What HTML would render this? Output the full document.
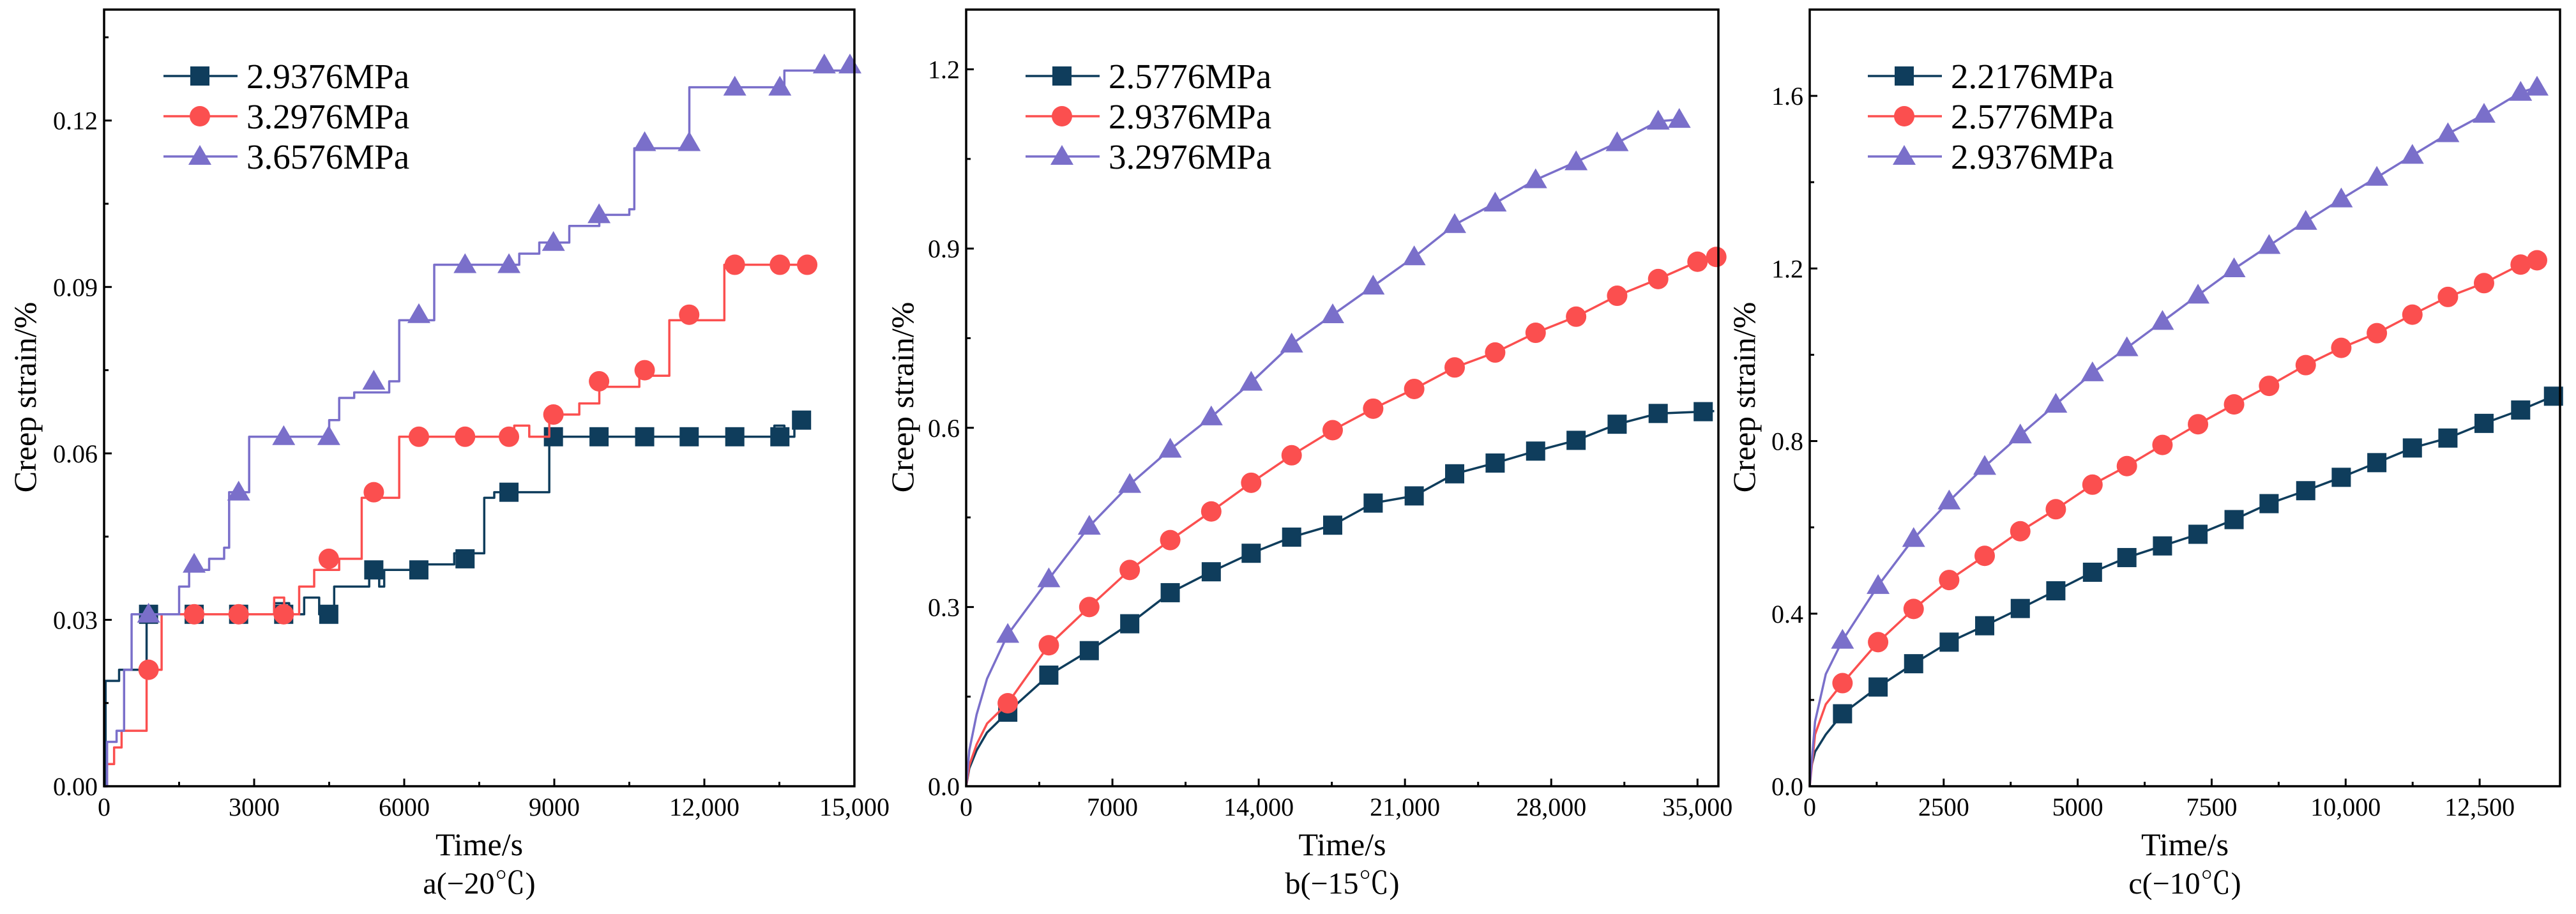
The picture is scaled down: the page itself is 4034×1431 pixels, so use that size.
<!DOCTYPE html>
<html><head><meta charset="utf-8"><style>
html,body{margin:0;padding:0;background:#fff;}
svg{display:block;font-family:"Liberation Serif","Noto Serif CJK SC",serif;}
</style></head><body>
<svg id="fig" width="4034" height="1431" viewBox="0 0 4034 1431" xmlns="http://www.w3.org/2000/svg"></svg>
<script>
// ---------- Panel a (-20°C) ----------
const aXTicks=[0,3000,6000,9000,12000,15000];
const aXTickLabels=["0","3000","6000","9000","12,000","15,000"];
const aYTicks=[0,0.03,0.06,0.09,0.12];
const aYTickLabels=["0.00","0.03","0.06","0.09","0.12"];
const aLegend=["2.9376MPa","3.2976MPa","3.6576MPa"];
const a1T=[0,30,300,850,3400,3700,4000,4300,4600,5300,5500,5600,6400,7000,7600,7800,8900,13400,13600,13800,13950];
const a1V=[0,0.019,0.021,0.031,0.033,0.031,0.034,0.031,0.036,0.038,0.036,0.039,0.040,0.042,0.052,0.053,0.063,0.065,0.063,0.066,0.066];
const a2T=[0,60,200,350,850,1150,3400,3600,3900,4200,4700,5150,5900,8200,8500,8900,9500,9900,10700,11300,12400,14000];
const a2V=[0,0.004,0.007,0.010,0.021,0.031,0.034,0.031,0.036,0.039,0.041,0.052,0.063,0.065,0.063,0.067,0.069,0.072,0.074,0.084,0.094,0.094];
const a3T=[0,60,250,400,550,1500,1700,2100,2400,2500,2900,4500,4700,5000,5700,5900,6600,8300,8700,9300,9900,10500,10600,11600,11700,13600,15000];
const a3V=[0,0.008,0.010,0.021,0.031,0.036,0.039,0.041,0.043,0.053,0.063,0.066,0.070,0.071,0.073,0.084,0.094,0.096,0.098,0.101,0.103,0.104,0.115,0.115,0.126,0.129,0.130];
const a1MT=[889,1801,2690,3591,4492,5392,6293,7216,8094,8983,9895,10807,11697,12609,13510,13943];
const a1MV=[0.031,0.031,0.031,0.031,0.031,0.039,0.039,0.041,0.053,0.063,0.063,0.063,0.063,0.063,0.063,0.066];
const a2MT=[889,1801,2690,3591,4492,5392,6293,7216,8094,8983,9895,10807,11697,12609,13510,14056];
const a2MV=[0.021,0.031,0.031,0.031,0.041,0.053,0.063,0.063,0.063,0.067,0.073,0.075,0.085,0.094,0.094,0.094];
const a3MT=[889,1801,2690,3591,4492,5392,6293,7216,8094,8983,9895,10807,11697,12609,13510,14398,14911];
const a3MV=[0.031,0.040,0.053,0.063,0.063,0.073,0.085,0.094,0.094,0.098,0.103,0.116,0.116,0.126,0.126,0.130,0.130];

// ---------- Panel b (-15°C) ----------
const bXTicks=[0,7000,14000,21000,28000,35000];
const bXTickLabels=["0","7000","14,000","21,000","28,000","35,000"];
const bYTicks=[0,0.3,0.6,0.9,1.2];
const bYTickLabels=["0.0","0.3","0.6","0.9","1.2"];
const bLegend=["2.5776MPa","2.9376MPa","3.2976MPa"];
const bMT=[1991,3956,5892,7829,9766,11730,13640,15577,17541,19478,21442,23379,25316,27253,29190,31154,33118];
const b1MV=[0.124,0.186,0.227,0.272,0.324,0.359,0.390,0.417,0.437,0.474,0.486,0.523,0.541,0.561,0.579,0.606,0.624];
const b2MV=[0.139,0.236,0.300,0.362,0.412,0.460,0.508,0.554,0.596,0.632,0.665,0.701,0.726,0.759,0.786,0.821,0.849];
const b3MV=[0.254,0.347,0.435,0.505,0.564,0.618,0.676,0.740,0.789,0.837,0.886,0.940,0.976,1.015,1.045,1.077,1.113];
const b1EndT=[35273,35800];const b1EndV=[0.627,0.628];
const b2EndT=[35000,35900];const b2EndV=[0.878,0.886];
const b3EndT=[34127];const b3EndV=[1.116];
const bStartT=[0,150,500,1000];
const b1StartV=[0,0.03,0.06,0.09];
const b2StartV=[0,0.035,0.07,0.105];
const b3StartV=[0,0.06,0.12,0.18];

// ---------- Panel c (-10°C) ----------
const cXTicks=[0,2500,5000,7500,10000,12500];
const cXTickLabels=["0","2500","5000","7500","10,000","12,500"];
const cYTicks=[0,0.4,0.8,1.2,1.6];
const cYTickLabels=["0.0","0.4","0.8","1.2","1.6"];
const cLegend=["2.2176MPa","2.5776MPa","2.9376MPa"];
const cMT=[612,1276,1939,2602,3265,3929,4592,5276,5918,6582,7245,7918,8571,9255,9918,10582,11245,11908,12582,13265];
const c1MV=[0.168,0.230,0.284,0.334,0.372,0.412,0.453,0.496,0.530,0.557,0.584,0.618,0.655,0.685,0.716,0.750,0.784,0.807,0.841,0.872];
const c2MV=[0.239,0.334,0.411,0.478,0.534,0.591,0.642,0.699,0.742,0.791,0.839,0.885,0.928,0.976,1.016,1.050,1.093,1.134,1.166,1.209];
const c3MV=[0.338,0.465,0.574,0.661,0.741,0.814,0.885,0.958,1.016,1.077,1.138,1.199,1.253,1.309,1.361,1.411,1.462,1.512,1.557,1.608];
const c1EndT=[13878,14000];const c1EndV=[0.904,0.905];
const c2EndT=[13571];const c2EndV=[1.219];
const c3EndT=[13571];const c3EndV=[1.620];
const cStartT=[0,100,300];
const c1StartV=[0.03,0.08,0.12];
const c2StartV=[0,0.12,0.19];
const c3StartV=[0,0.15,0.26];

const NS="http://www.w3.org/2000/svg";
const svg=document.getElementById('fig');
const COLORS=["#0f3d5c","#fb4f4f","#7a6fca"];
function mk(tag,attrs,parent){const e=document.createElementNS(NS,tag);for(const k in attrs)e.setAttribute(k,attrs[k]);(parent||svg).appendChild(e);return e;}

function panel(o){
  const g=mk('g',{});
  
  
  const sx=v=>o.L+(v-o.xmin)/(o.xmax-o.xmin)*(o.R-o.L);
  const sy=v=>o.B-(v/o.ymax)*(o.B-o.T);
  o.series.forEach((s,i)=>{
    let d="";
    if(s.step){
      s.t.forEach((t,j)=>{const x=sx(t),y=sy(s.v[j]);if(j===0)d+=`M${x},${y}`;else d+=`H${x}V${y}`;});
    }else{
      s.t.forEach((t,j)=>{d+=(j?'L':'M')+sx(t)+','+sy(s.v[j]);});
    }
    const p=mk('path',{d:d,fill:'none',stroke:COLORS[i],'stroke-width':3.5,'stroke-linejoin':'round'},g);
    
    
    s.mt.forEach((t,j)=>{
      const m=marker(i,sx(t),sy(s.mv[j]),g);
      
      
    });
  });
  const fr=mk('rect',{x:o.L,y:o.T,width:o.R-o.L,height:o.B-o.T,fill:'none',stroke:'#000','stroke-width':3.5},g);
  
  
  o.xt.forEach((v,j)=>{
    const x=sx(v);
    mk('line',{x1:x,y1:o.B,x2:x,y2:o.B-12,stroke:'#000','stroke-width':3},g);
    if(j<o.xt.length-1){const xm=sx((v+o.xt[j+1])/2);mk('line',{x1:xm,y1:o.B,x2:xm,y2:o.B-7,stroke:'#000','stroke-width':3},g);}
    const t=mk('text',{x:x,y:o.B+46,'font-size':40,'text-anchor':'middle',fill:'#000'},g);
    t.textContent=o.xl[j];
    
    
  });
  o.yt.forEach((v,j)=>{
    const y=sy(v);
    mk('line',{x1:o.L,y1:y,x2:o.L+12,y2:y,stroke:'#000','stroke-width':3},g);
    const ym=sy(v+(o.yt[1]-o.yt[0])/2);
    if(ym>o.T+2)mk('line',{x1:o.L,y1:ym,x2:o.L+7,y2:ym,stroke:'#000','stroke-width':3},g);
    const t=mk('text',{x:o.L-10,y:y+14,'font-size':40,'text-anchor':'end',fill:'#000'},g);
    t.textContent=o.yl[j];
    
    
  });
  const xt=mk('text',{x:(o.L+o.R)/2,y:1339,'font-size':50,'text-anchor':'middle',fill:'#000'},g);
  xt.textContent='Time/s';
  
  
  const ct=mk('text',{x:(o.L+o.R)/2,y:1399,'font-size':48,'text-anchor':'middle',fill:'#000'},g);
  ct.textContent=o.caption;
  
  
  const yt=mk('text',{x:0,y:0,'font-size':50,'text-anchor':'middle',fill:'#000',transform:`translate(${o.ytx},622) rotate(-90)`},g);
  yt.textContent='Creep strain/%';
  
  
  o.legend.forEach((lab,i)=>{
    const y=119+i*63;
    const lg=mk('g',{},g);
    
    
    mk('line',{x1:o.lgx,y1:y,x2:o.lgx+116,y2:y,stroke:COLORS[i],'stroke-width':3.5},lg);
    marker(i,o.lgx+57,y,lg);
    const t=mk('text',{x:o.lgx+130,y:y+19,'font-size':55,fill:'#000'},lg);
    t.textContent=lab;
  });
}
function marker(i,x,y,g){
  if(i===0)return mk('rect',{x:x-15,y:y-15,width:30,height:30,fill:COLORS[0]},g);
  if(i===1)return mk('circle',{cx:x,cy:y,r:16,fill:COLORS[1]},g);
  return mk('path',{d:`M${x},${y-18}L${x+18},${y+13}L${x-18},${y+13}Z`,fill:COLORS[2]},g);
}

panel({name:'panel-a-minus20C',L:163,R:1338,T:15,B:1231,xmin:0,xmax:15000,ymax:0.14,
  xt:aXTicks,xl:aXTickLabels,yt:aYTicks,yl:aYTickLabels,legend:aLegend,lgx:256,ytx:56,caption:'a(−20℃)',
  series:[{step:true,t:a1T,v:a1V,mt:a1MT,mv:a1MV},{step:true,t:a2T,v:a2V,mt:a2MT,mv:a2MV},{step:true,t:a3T,v:a3V,mt:a3MT,mv:a3MV}]});
panel({name:'panel-b-minus15C',L:1513,R:2691,T:15,B:1231,xmin:0,xmax:36000,ymax:1.3,
  xt:bXTicks,xl:bXTickLabels,yt:bYTicks,yl:bYTickLabels,legend:bLegend,lgx:1606,ytx:1430,caption:'b(−15℃)',
  series:[
   {t:bStartT.concat(bMT,b1EndT),v:b1StartV.concat(b1MV,b1EndV),mt:bMT.concat(b1EndT.slice(0,1)),mv:b1MV.concat(b1EndV.slice(0,1))},
   {t:bStartT.concat(bMT,b2EndT),v:b2StartV.concat(b2MV,b2EndV),mt:bMT.concat(b2EndT),mv:b2MV.concat(b2EndV)},
   {t:bStartT.concat(bMT,b3EndT),v:b3StartV.concat(b3MV,b3EndV),mt:bMT.concat(b3EndT),mv:b3MV.concat(b3EndV)}]});
panel({name:'panel-c-minus10C',L:2834,R:4009,T:15,B:1231,xmin:0,xmax:14000,ymax:1.8,
  xt:cXTicks,xl:cXTickLabels,yt:cYTicks,yl:cYTickLabels,legend:cLegend,lgx:2925,ytx:2748,caption:'c(−10℃)',
  series:[
   {t:cStartT.concat(cMT,c1EndT),v:c1StartV.concat(c1MV,c1EndV),mt:cMT.concat(c1EndT.slice(0,1)),mv:c1MV.concat(c1EndV.slice(0,1))},
   {t:cStartT.concat(cMT,c2EndT),v:c2StartV.concat(c2MV,c2EndV),mt:cMT.concat(c2EndT),mv:c2MV.concat(c2EndV)},
   {t:cStartT.concat(cMT,c3EndT),v:c3StartV.concat(c3MV,c3EndV),mt:cMT.concat(c3EndT),mv:c3MV.concat(c3EndV)}]});
</script>
</body></html>
